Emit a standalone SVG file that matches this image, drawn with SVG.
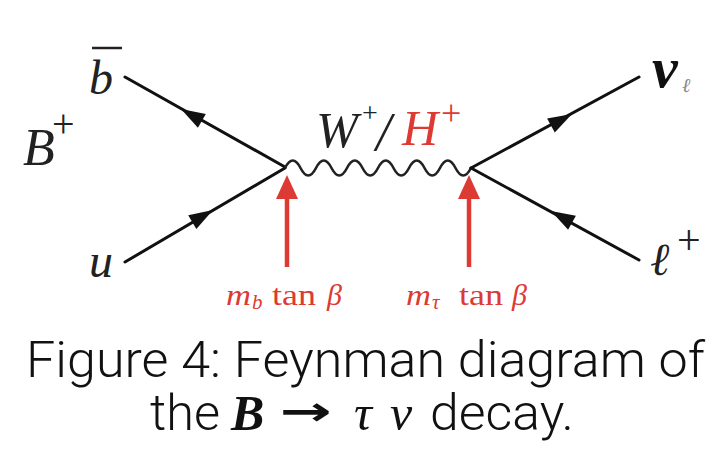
<svg xmlns="http://www.w3.org/2000/svg" width="722" height="449" viewBox="0 0 722 449">
<defs>
<style>
.fermion{stroke:#111;stroke-width:3;fill:none;stroke-linecap:round}
.boson{stroke:#222;stroke-width:2.6;fill:none}
.ah{fill:#111}
.red{fill:#dd3a33}
.redline{stroke:#dd3a33;stroke-width:4.5;fill:none}
.math{font-family:"Liberation Serif","DejaVu Serif",serif;font-style:italic}
.rm{font-family:"Liberation Serif","DejaVu Serif",serif;font-style:normal}
.cap{font-family:Roboto,"Liberation Sans",sans-serif;font-weight:300;fill:#111}
.lbl{font-family:"Liberation Serif","DejaVu Serif",serif;font-size:30px}
.sub{font-family:"Liberation Serif","DejaVu Serif",serif;font-size:21px;font-style:italic}
</style>
<path id="ah" d="M0,0 L-24,-8 L-24,8 Z"/>
<path id="rh" d="M0,0 L-24,-11 L-24,11 Z"/>
</defs>
<rect width="722" height="449" fill="#fff"/>
<g id="connectors">
<line class="fermion" x1="125" y1="77" x2="285" y2="167"/>
<use href="#ah" class="ah" transform="translate(181,109) rotate(-150.4)"/>
<line class="fermion" x1="125" y1="262" x2="285" y2="168"/>
<use href="#ah" class="ah" transform="translate(213,210) rotate(-30.4)"/>
<path class="boson" d="M285,168 q7.75,-15 15.5,0 t15.5,0 t15.5,0 t15.5,0 t15.5,0 t15.5,0 t15.5,0 t15.5,0 t15.5,0 t15.5,0 t15.5,0 t15.5,0"/>
<line class="fermion" x1="471" y1="168" x2="639" y2="77"/>
<use href="#ah" class="ah" transform="translate(572,114) rotate(-28.7)"/>
<line class="fermion" x1="639" y1="260" x2="471" y2="168"/>
<use href="#ah" class="ah" transform="translate(551,211) rotate(-151)"/>
<line class="redline" x1="287" y1="267" x2="287" y2="196"/>
<use href="#rh" class="red" transform="translate(287,175) rotate(-90)"/>
<line class="redline" x1="469" y1="267" x2="469" y2="196"/>
<use href="#rh" class="red" transform="translate(469,175) rotate(-90)"/>
</g>
<g id="b-bar">
<text class="math" x="89" y="94" font-size="48" fill="#222">b</text>
<line x1="92" y1="48" x2="122" y2="48" stroke="#222" stroke-width="2.5"/>
</g>
<g id="B-plus">
<text class="math" x="23" y="165" font-size="52" fill="#222">B</text>
<text class="rm" x="52" y="137" font-size="40" fill="#222">+</text>
</g>
<g id="u">
<text class="math" x="89" y="277" font-size="48" fill="#222">u</text>
</g>
<g id="W-H">
<text class="math" x="316" y="147" font-size="50" fill="#222" textLength="42" lengthAdjust="spacingAndGlyphs">W</text>
<text class="rm" x="362" y="122" font-size="28" fill="#222">+</text>
<text class="math" x="376" y="150" font-size="54" fill="#222">/</text>
<text class="math red" x="402" y="145" font-size="50">H</text>
<text class="rm red" x="441" y="125" font-size="36">+</text>
</g>
<g id="nu">
<text class="math" x="652" y="87" font-size="58" font-weight="bold" fill="#111">ν</text>
<text class="math" x="682" y="92" font-size="20" fill="#888">ℓ</text>
</g>
<g id="lepton">
<text class="math" x="650" y="275" font-size="46" fill="#222">ℓ</text>
<text class="rm" x="677" y="254" font-size="42" fill="#222">+</text>
</g>
<g id="label-mb">
<text class="lbl red" x="226" y="305" font-style="italic" textLength="25" lengthAdjust="spacingAndGlyphs">m</text>
<text class="sub red" x="252" y="309">b</text>
<text class="lbl red" x="272" y="305" textLength="44" lengthAdjust="spacingAndGlyphs">tan</text>
<text class="lbl red" x="327" y="305" font-style="italic">β</text>
</g>
<g id="label-mtau">
<text class="lbl red" x="406" y="305" font-style="italic" textLength="25" lengthAdjust="spacingAndGlyphs">m</text>
<text class="sub red" x="432" y="309">τ</text>
<text class="lbl red" x="459" y="305" textLength="44" lengthAdjust="spacingAndGlyphs">tan</text>
<text class="lbl red" x="512" y="305" font-style="italic">β</text>
</g>
<g id="caption">
<text class="cap" x="26" y="377" font-size="50" textLength="679" lengthAdjust="spacingAndGlyphs">Figure 4: Feynman diagram of</text>
<text class="cap" x="150" y="430" font-size="50" textLength="70" lengthAdjust="spacingAndGlyphs">the</text>
<text class="math" x="231" y="430" font-size="50" font-weight="bold" fill="#111">B</text>
<text x="280" y="425" font-size="40" font-family="DejaVu Sans,sans-serif" font-weight="bold" fill="#111" textLength="52" lengthAdjust="spacingAndGlyphs">→</text>
<text class="math" x="354" y="430" font-size="50" fill="#111">τ</text>
<text class="math" x="390" y="430" font-size="50" fill="#111">ν</text>
<text class="cap" x="430" y="430" font-size="50" textLength="144" lengthAdjust="spacingAndGlyphs">decay.</text>
</g>
</svg>
